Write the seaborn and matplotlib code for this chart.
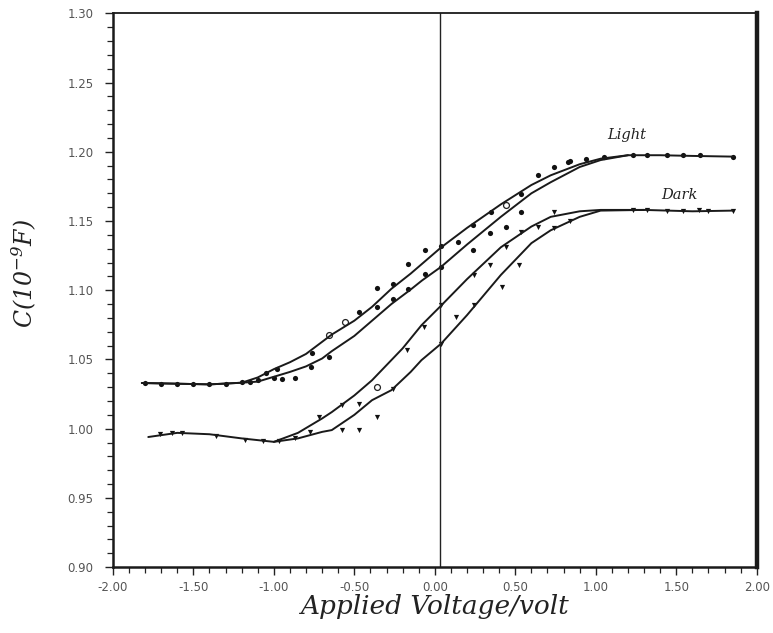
import matplotlib
matplotlib.use("Agg")
import matplotlib.pyplot as plt
import seaborn as sns
import pandas as pd
import numpy as np
from matplotlib.ticker import MultipleLocator, FixedLocator

# ---------------- data ----------------
light_a_v = [-1.82, -1.6, -1.4, -1.2, -1.1, -1.0, -0.9, -0.8, -0.64, -0.5, -0.39, -0.27, -0.15, -0.08, 0.04, 0.2, 0.41, 0.6, 0.72, 0.9, 1.03, 1.2, 1.4, 1.6, 1.85]
light_a_c = [1.033, 1.0325, 1.032, 1.0332, 1.037, 1.043, 1.048, 1.054, 1.068, 1.078, 1.088, 1.101, 1.112, 1.119, 1.131, 1.145, 1.162, 1.176, 1.183, 1.191, 1.195, 1.1975, 1.1975, 1.197, 1.1965]

light_b_v = [-1.82, -1.6, -1.4, -1.2, -1.1, -1.0, -0.9, -0.8, -0.7, -0.64, -0.5, -0.39, -0.27, -0.15, -0.08, 0.04, 0.2, 0.41, 0.6, 0.72, 0.9, 1.03, 1.2]
light_b_c = [1.033, 1.0325, 1.032, 1.0332, 1.034, 1.0375, 1.041, 1.045, 1.0507, 1.056, 1.067, 1.078, 1.090, 1.1005, 1.107, 1.117, 1.133, 1.153, 1.170, 1.178, 1.189, 1.194, 1.1975]

dark_a_v = [-1.78, -1.6, -1.4, -1.2, -1.0, -0.85, -0.7, -0.64, -0.5, -0.39, -0.2, -0.083, 0.04, 0.2, 0.41, 0.6, 0.72, 0.9, 1.03, 1.3, 1.6, 1.85]
dark_a_c = [0.994, 0.997, 0.996, 0.993, 0.9905, 0.997, 1.0074, 1.012, 1.024, 1.035, 1.058, 1.0747, 1.089, 1.108, 1.131, 1.146, 1.153, 1.157, 1.158, 1.158, 1.157, 1.1575]

dark_b_v = [-1.0, -0.85, -0.7, -0.64, -0.5, -0.39, -0.27, -0.15, -0.083, 0.04, 0.2, 0.41, 0.6, 0.72, 0.9, 1.03, 1.3]
dark_b_c = [0.9905, 0.993, 0.9977, 0.999, 1.010, 1.0206, 1.0278, 1.041, 1.0495, 1.0615, 1.082, 1.111, 1.134, 1.1433, 1.153, 1.1575, 1.158]

# measured points
light_pt_v = [-1.8, -1.7, -1.6, -1.5, -1.4, -1.3, -1.2, -1.15, -1.1, -1.05, -0.98, -0.87, -0.76, -0.47, -0.36, -0.26, -0.166, -0.063,
              -0.36, -0.26, -0.166, -0.063, -1.0, -0.95, -0.77, -0.66,
              0.143, 0.236, 0.35, 0.535, 0.638, 0.74, 0.83, 0.236, 0.34, 0.44, 0.535, 0.04, 0.04,
              0.84, 0.94, 1.05, 1.23, 1.32, 1.44, 1.54, 1.65, 1.85]
light_pt_c = [1.033, 1.0325, 1.0325, 1.032, 1.032, 1.0325, 1.0335, 1.034, 1.035, 1.040, 1.043, 1.0365, 1.0546, 1.084, 1.1015, 1.1048, 1.1193, 1.1289,
              1.088, 1.094, 1.1012, 1.112, 1.0365, 1.036, 1.0446, 1.052,
              1.135, 1.147, 1.1566, 1.1698, 1.183, 1.189, 1.1926, 1.129, 1.141, 1.1457, 1.1566, 1.132, 1.117,
              1.1935, 1.195, 1.196, 1.1975, 1.1975, 1.1975, 1.1975, 1.1975, 1.1965]

dark_pt_v = [-1.71, -1.63, -1.57, -1.36, -1.18, -1.07, -0.97, -0.87, -0.72, -0.578, -0.47, -0.17, -0.07,
             -0.776, -0.578, -0.47, -0.36, -0.26, 0.04, 0.04,
             0.246, 0.34, 0.44, 0.535, 0.638, 0.74, 0.133, 0.246, 0.42, 0.524, 0.74, 0.84,
             1.23, 1.32, 1.44, 1.54, 1.64, 1.70, 1.85]
dark_pt_c = [0.996, 0.997, 0.997, 0.995, 0.992, 0.991, 0.991, 0.993, 1.0085, 1.017, 1.018, 1.0567, 1.0735,
             0.9977, 0.999, 0.999, 1.0085, 1.029, 1.089, 1.0615,
             1.1108, 1.118, 1.131, 1.142, 1.146, 1.1566, 1.0807, 1.089, 1.1024, 1.118, 1.1446, 1.150,
             1.158, 1.158, 1.1575, 1.1575, 1.1578, 1.1575, 1.1575]

open_pt_v = [-0.66, -0.56, 0.44, -0.36]
open_pt_c = [1.0675, 1.077, 1.1614, 1.030]

x_ticks = [-2.0, -1.5, -1.0, -0.5, 0.0, 0.5, 1.0, 1.5, 2.0]
x_tick_labels = ["-2.00", "-1.50", "-1.00", "-0.50", "0.00", "0.50", "1.00", "1.50", "2.00"]
y_ticks = [0.90, 0.95, 1.00, 1.05, 1.10, 1.15, 1.20, 1.25, 1.30]
y_tick_labels = ["0.90", "0.95", "1.00", "1.05", "1.10", "1.15", "1.20", "1.25", "1.30"]

# ---------------- plot ----------------
sns.set_theme(style="ticks")
plt.rcParams['font.family'] = ['DejaVu Sans']
plt.rcParams['mathtext.fontset'] = 'custom'
plt.rcParams['mathtext.it'] = 'DejaVu Serif:italic'
plt.rcParams['mathtext.rm'] = 'DejaVu Serif:italic'

fig = plt.figure(figsize=(7.73, 6.33), dpi=100)
ax = fig.add_axes([0.146, 0.104, 0.833, 0.875])

curves = [(light_a_v, light_a_c), (light_b_v, light_b_c), (dark_a_v, dark_a_c), (dark_b_v, dark_b_c)]
for vv, cc in curves:
    df = pd.DataFrame({"v": vv, "c": cc})
    sns.lineplot(data=df, x="v", y="c", ax=ax, color="#1a1a1a", lw=1.4, sort=False, estimator=None)

sns.scatterplot(x=light_pt_v, y=light_pt_c, ax=ax, color="#111111", s=14, marker="o", linewidth=0)
sns.scatterplot(x=dark_pt_v, y=dark_pt_c, ax=ax, color="#111111", s=14, marker="v", linewidth=0)
sns.scatterplot(x=open_pt_v, y=open_pt_c, ax=ax, facecolor="white", edgecolor="#222222", s=18, marker="o", linewidth=0.9)

ax.axvline(0.03, color="#222222", lw=1.0)

ax.set_xlim(-2.0, 2.0)
ax.set_ylim(0.90, 1.30)

ax.xaxis.set_major_locator(FixedLocator(x_ticks))
ax.set_xticklabels(x_tick_labels)
ax.yaxis.set_major_locator(FixedLocator(y_ticks))
ax.set_yticklabels(y_tick_labels)
ax.xaxis.set_minor_locator(MultipleLocator(0.1))
ax.yaxis.set_minor_locator(MultipleLocator(0.01))

ax.tick_params(axis="both", which="major", direction="out", length=6, width=1.0,
               color="#222222", labelsize=8.5, labelcolor="#555555", pad=4)
ax.tick_params(axis="y", which="major", pad=8)
ax.tick_params(axis="both", which="minor", direction="out", length=4, width=0.9, color="#222222")

for side, lw in [("left", 1.8), ("bottom", 1.8), ("top", 1.3), ("right", 3.2)]:
    ax.spines[side].set_visible(True)
    ax.spines[side].set_linewidth(lw)
    ax.spines[side].set_color("#1a1a1a")

ax.set_xlabel("Applied Voltage/volt", family="DejaVu Serif", style="italic",
              fontsize=19, color="#222222", labelpad=0)
ax.set_ylabel(r"$C(10^{-9}F)$", fontsize=17, color="#222222")
ax.yaxis.set_label_coords(-0.115, 0.53)

ax.text(1.19, 1.212, "Light", family="DejaVu Serif", style="italic", fontsize=10.5,
        color="#222222", ha="center", va="center")
ax.text(1.52, 1.169, "Dark", family="DejaVu Serif", style="italic", fontsize=10.5,
        color="#222222", ha="center", va="center")

ax.grid(False)
fig.savefig("out.png", dpi=100)
